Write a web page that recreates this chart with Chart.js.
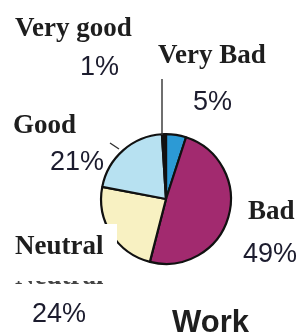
<!DOCTYPE html>
<html>
<head>
<meta charset="utf-8">
<script src="https://cdn.jsdelivr.net/npm/chart.js@4.4.1/dist/chart.umd.min.js"></script>
<style>
  html, body { margin: 0; padding: 0; background: #fff; }
  #wrap { width: 299px; height: 333px; position: relative; }
</style>
</head>
<body>
<div id="wrap"><canvas id="pie"></canvas></div>
<script>
// data
const categories = ['Very Bad', 'Bad', 'Neutral', 'Good', 'Very good'];
const shares     = [5, 49, 24, 21, 1];
const sliceColors = ['#2c9ad5', '#a22a6f', '#f8f1c2', '#b7e1f1', '#141414'];
const chartTitle = 'Work';

// label placement (text anchors, left/baseline)
const labelSpots = {
  'Very good': { name: [15, 36],  pct: [80, 75] },
  'Very Bad':  { name: [158, 63], pct: [193, 110] },
  'Good':      { name: [13, 133], pct: [50, 170] },
  'Bad':       { name: [248, 219], pct: [243, 262] },
  'Neutral':   { name: [15, 254], pct: [32, 322] }
};

const serif = 'bold 27px "Liberation Serif", "DejaVu Serif", serif';
const sans  = '27px "Liberation Sans", Arial, sans-serif';

const labelPlugin = {
  id: 'labels',
  afterDraw(chart) {
    const ctx = chart.ctx;
    ctx.save();

    // leader lines
    ctx.strokeStyle = '#333';
    ctx.lineWidth = 1.4;
    ctx.beginPath();
    ctx.moveTo(162, 79); ctx.lineTo(162, 135);
    ctx.moveTo(110, 143); ctx.lineTo(119, 149);
    ctx.stroke();

    // white box under the Neutral label that eats into the pie
    ctx.fillStyle = '#fff';
    ctx.fillRect(80, 224, 37, 38);

    ctx.textBaseline = 'alphabetic';
    ctx.textAlign = 'left';
    categories.forEach((c, i) => {
      const s = labelSpots[c];
      ctx.fillStyle = '#1e1e1e';
      ctx.font = serif;
      ctx.fillText(c, s.name[0], s.name[1]);
      ctx.fillStyle = '#1c1c2e';
      ctx.font = sans;
      ctx.fillText(shares[i] + '%', s.pct[0], s.pct[1]);
    });

    // clipped leftover label fragment
    ctx.save();
    ctx.beginPath();
    ctx.rect(0, 281, 130, 3);
    ctx.clip();
    ctx.fillStyle = '#444';
    ctx.font = serif;
    ctx.fillText('Neutral', 15, 284);
    ctx.restore();

    ctx.fillStyle = '#1e1e1e';
    ctx.font = 'bold 31px "Liberation Sans", Arial, sans-serif';
    ctx.fillText(chartTitle, 172, 332);
    ctx.restore();
  }
};

new Chart(document.getElementById('pie'), {
  type: 'pie',
  data: {
    labels: categories,
    datasets: [{
      data: shares,
      backgroundColor: sliceColors,
      borderColor: '#111',
      borderWidth: 2.2
    }]
  },
  options: {
    responsive: true,
    maintainAspectRatio: false,
    animation: false,
    layout: { padding: { left: 100, right: 67, top: 133, bottom: 68 } },
    plugins: {
      legend: { display: false },
      tooltip: { enabled: false },
      title: { display: false }
    }
  },
  plugins: [labelPlugin]
});
</script>
</body>
</html>
